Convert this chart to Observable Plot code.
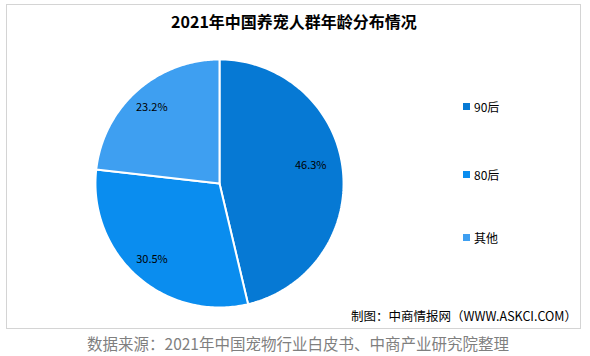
<!DOCTYPE html>
<html>
<head>
<meta charset="utf-8">
<script src="https://cdn.jsdelivr.net/npm/d3@7"></script>
<script src="https://cdn.jsdelivr.net/npm/@observablehq/plot@0.6"></script>
<style>
  html, body { margin: 0; padding: 0; background: #fff; }
  body { width: 590px; height: 356px; position: relative; overflow: hidden;
         font-family: "Noto Sans CJK SC", "Noto Sans", sans-serif; }
  #frame { position: absolute; left: 6px; top: 4px; width: 575px; height: 325px;
           border: 1px solid #d4d4d4; box-sizing: border-box; }
  #title { position: absolute; left: 0; width: 588px; top: 9px; text-align: center;
           font-size: 16px; font-weight: bold; color: #000; }
  #pie { position: absolute; left: 89px; top: 53px; }
  #legend { position: absolute; left: 463px; top: 0; font-size: 12px; color: #000; }
  .item { position: absolute; white-space: nowrap; display: flex; align-items: center; }
  .sw { width: 7px; height: 7px; margin-right: 4px; }
  #credit { position: absolute; right: 13px; top: 306px; font-size: 12.5px; color: #000; }
  #caption { position: absolute; left: 0; width: 596px; top: 332px; text-align: center;
             font-size: 15.5px; color: #7f7f7f; }
</style>
</head>
<body>
<div id="frame"></div>
<div id="title"></div>
<div id="pie"></div>
<div id="legend"></div>
<div id="credit"></div>
<div id="caption"></div>
<script>
const title = "2021年中国养宠人群年龄分布情况";
const categories = ["90后", "80后", "其他"];
const values = [46.3, 30.5, 23.2];
const colors = ["#0679D4", "#0A8DEF", "#3E9FF1"];
const credit = "制图：中商情报网（WWW.ASKCI.COM）";
const caption = "数据来源：2021年中国宠物行业白皮书、中商产业研究院整理";

document.getElementById("title").textContent = title;
document.getElementById("credit").textContent = credit;
document.getElementById("caption").textContent = caption;

const arcs = d3.pie().sort(null).value(d => d)(values);
const polys = [];
const labels = [];
arcs.forEach((a, i) => {
  const n = 120;
  polys.push({cat: categories[i], x: 0, y: 0, k: -1});
  for (let j = 0; j <= n; j++) {
    const t = a.startAngle + (a.endAngle - a.startAngle) * j / n;
    polys.push({cat: categories[i], x: Math.sin(t), y: Math.cos(t), k: j});
  }
  polys.push({cat: categories[i], x: 0, y: 0, k: n + 1});
  const m = (a.startAngle + a.endAngle) / 2;
  const rr = i === 0 ? 0.74 : 0.82;
  labels.push({x: Math.sin(m) * rr, y: Math.cos(m) * rr + (i === 0 ? 0.06 : 0), text: values[i].toFixed(1) + "%"});
});

const D = 1.048;
const marks = categories.map((c, i) =>
  Plot.line(polys.filter(p => p.cat === c), {x: "x", y: "y", fill: colors[i], stroke: "#fff", strokeWidth: 2, curve: "linear"})
);
marks.push(Plot.text(labels, {x: "x", y: "y", text: "text", fontSize: 11, fill: "#000"}));

const chart = Plot.plot({
  width: 260, height: 260, margin: 0,
  x: {domain: [-D, D], axis: null},
  y: {domain: [-D, D], axis: null},
  style: {fontFamily: "'Noto Sans CJK SC', sans-serif", background: "transparent", overflow: "visible"},
  marks
});
document.getElementById("pie").appendChild(chart);

const legendYs = [107, 175, 238];
const legend = document.getElementById("legend");
categories.forEach((c, i) => {
  const it = document.createElement("div");
  it.className = "item";
  it.style.top = (legendYs[i] - 9) + "px";
  const sw = document.createElement("span");
  sw.className = "sw";
  sw.style.background = colors[i];
  const tx = document.createElement("span");
  tx.textContent = c;
  it.appendChild(sw); it.appendChild(tx);
  legend.appendChild(it);
});
</script>
</body>
</html>
